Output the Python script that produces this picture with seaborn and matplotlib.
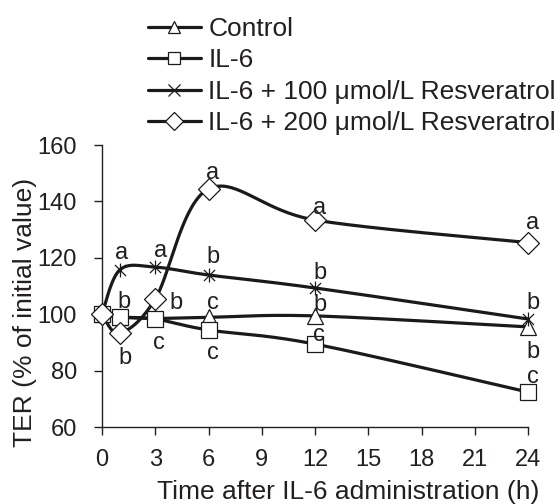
import numpy as np
import pandas as pd
import matplotlib
matplotlib.use("Agg")
import matplotlib.pyplot as plt
import seaborn as sns
from matplotlib.path import Path
from matplotlib.lines import Line2D

# Transepithelial resistance over time, % of the initial value
hours = [0, 1, 3, 6, 12, 24]
control = [100, 99.0, 98.5, 98.9, 99.4, 95.5]
il6 = [100, 99.0, 98.3, 94.4, 89.4, 72.4]
res100 = [100, 115.7, 116.7, 113.9, 109.3, 98.3]
res200 = [100, 93.3, 105.4, 144.4, 133.4, 125.4]

series_names = ["Control", "IL-6",
                "IL-6 + 100 μmol/L Resveratrol",
                "IL-6 + 200 μmol/L Resveratrol"]

# significance letters at each time point
control_letters = ["", "", "", "c", "b", "b"]
il6_letters = ["", "b", "c", "c", "c", "c"]
res100_letters = ["", "a", "a", "b", "b", "b"]
res200_letters = ["", "b", "b", "a", "a", "a"]

x_ticks = [0, 3, 6, 9, 12, 15, 18, 21, 24]
y_ticks = [60, 80, 100, 120, 140, 160]

sns.set_theme(style="ticks")
plt.rcParams["font.family"] = ["Liberation Sans", "DejaVu Sans"]
ink = "#231f20"
plt.rcParams["text.color"] = ink
plt.rcParams["axes.labelcolor"] = ink
plt.rcParams["xtick.color"] = ink
plt.rcParams["ytick.color"] = ink

W, H = 560, 504
fig = plt.figure(figsize=(W / 100, H / 100), dpi=100)
ax_l, ax_r, ax_t, ax_b = 102, 528, 145, 427
ax = fig.add_axes([ax_l / W, 1 - ax_b / H, (ax_r - ax_l) / W, (ax_b - ax_t) / H])

x_min, x_max, y_min, y_max = 0, 24, 60, 160
sx = (ax_r - ax_l) / (x_max - x_min)
sy = (ax_b - ax_t) / (y_max - y_min)


def smooth(xs, ys, n=40):
    """Bezier smoothing (Catmull-Rom control points) in screen space."""
    p = np.column_stack([np.asarray(xs, float) * sx, np.asarray(ys, float) * sy])
    m = len(p)
    out = []
    for i in range(m - 1):
        p0 = p[max(i - 1, 0)]
        p1 = p[i]
        p2 = p[i + 1]
        p3 = p[min(i + 2, m - 1)]
        c1 = p1 + (p2 - p0) / 6.0
        c2 = p2 - (p3 - p1) / 6.0
        t = np.linspace(0, 1, n)[:, None]
        seg = ((1 - t) ** 3) * p1 + 3 * ((1 - t) ** 2) * t * c1 + 3 * (1 - t) * t ** 2 * c2 + t ** 3 * p2
        out.append(seg if i == 0 else seg[1:])
    out = np.vstack(out)
    return out[:, 0] / sx, out[:, 1] / sy


# asterisk marker: an x crossed by a vertical stroke
star = Path([(-1, -1), (1, 1), (-1, 1), (1, -1), (0, -1.25), (0, 1.25)],
            [Path.MOVETO, Path.LINETO, Path.MOVETO, Path.LINETO, Path.MOVETO, Path.LINETO])

all_values = [control, il6, res100, res200]
markers = ["^", "s", star, "D"]
marker_sizes = [11, 12, 10, 11]
legend_markers = ["^", "s", "x", "D"]

lw = 2.3
for vals in all_values:
    cx, cy = smooth(hours, vals)
    curve = pd.DataFrame({"h": cx, "v": cy})
    sns.lineplot(data=curve, x="h", y="v", ax=ax, color="#1a1a1a", lw=lw,
                 sort=False, estimator=None, zorder=2, clip_on=False)

for vals, mk, ms in zip(all_values, markers, marker_sizes):
    ax.plot(hours, vals, linestyle="none", marker=mk, markersize=ms,
            markerfacecolor="white", markeredgecolor="#1a1a1a",
            markeredgewidth=0.9, zorder=4, clip_on=False)

# letter placement offsets (pixels) per series and time point
offsets = {
    0: {3: (4, 14), 4: (5, 11), 5: (5, -25)},
    1: {1: (4, 15), 2: (4, -24), 3: (4, -23), 4: (4, 9), 5: (5, 15)},
    2: {1: (2, 17), 2: (5, 16), 3: (4, 18), 4: (5, 15), 5: (5, 16)},
    3: {1: (5, -25), 2: (21, -4), 3: (4, 16), 4: (5, 12), 5: (5, 20)},
}
for si, (vals, labs) in enumerate(zip(all_values,
                                      [control_letters, il6_letters, res100_letters, res200_letters])):
    for pi, lab in enumerate(labs):
        if not lab:
            continue
        dx, dy = offsets[si][pi]
        ax.annotate(lab, (hours[pi], vals[pi]), xytext=(dx, dy), textcoords="offset pixels",
                    ha="center", va="center", fontsize=17, zorder=6, annotation_clip=False)

ax.set_xlim(x_min, x_max)
ax.set_ylim(y_min, y_max)
ax.set_xticks(x_ticks)
ax.set_yticks(y_ticks)
ax.tick_params(axis="both", direction="out", length=6, width=1, labelsize=17)
ax.tick_params(axis="y", pad=12)
ax.tick_params(axis="x", pad=10)
for side in ["top", "right"]:
    ax.spines[side].set_visible(False)
for side in ["left", "bottom"]:
    ax.spines[side].set_linewidth(1)
    ax.spines[side].set_color(ink)
ax.set_facecolor("white")

ax.set_xlabel("Time after IL-6 administration (h)", fontsize=19)
ax.set_ylabel("TER (% of initial value)", fontsize=19)
ax.xaxis.set_label_coords((348 - ax_l) / (ax_r - ax_l), (ax_b - 492) / (ax_b - ax_t))
ax.yaxis.set_label_coords((25 - ax_l) / (ax_r - ax_l), (ax_b - 312) / (ax_b - ax_t))
ax.xaxis.label.set_va("center")
ax.yaxis.label.set_va("center")

handles = [Line2D([], [], color="#1a1a1a", lw=lw, marker=m, markersize=9,
                  markerfacecolor="white", markeredgecolor="#1a1a1a", markeredgewidth=0.9)
           for m in legend_markers]
fig.legend(handles, series_names, loc="upper left",
           bbox_to_anchor=(148 / W, 1 - 17 / H), frameon=False, fontsize=19,
           handlelength=2.0, handletextpad=0.28, labelspacing=0.28, borderpad=0,
           borderaxespad=0)

fig.savefig("out.png", dpi=100, facecolor="white")
